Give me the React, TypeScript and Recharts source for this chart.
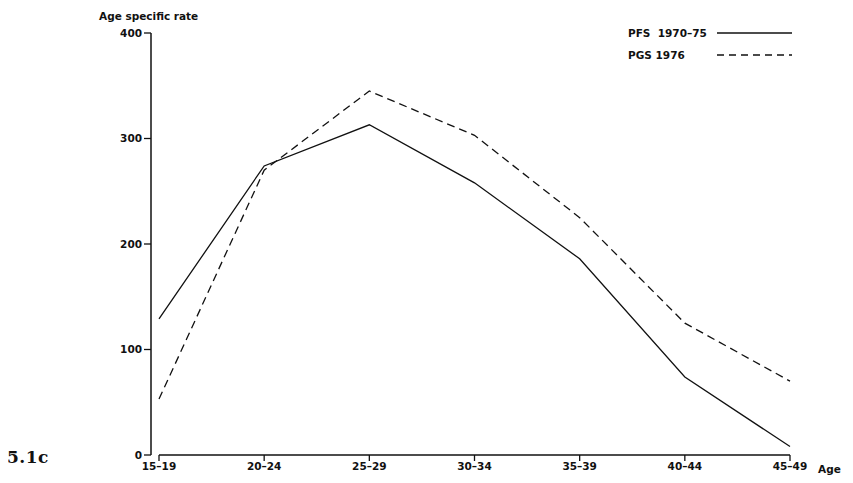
import { LineChart, Line, XAxis, YAxis, ReferenceLine } from 'recharts';

const ageGroups = ['15–19', '20–24', '25–29', '30–34', '35–39', '40–44', '45–49'];
const pfsRates = [129, 274, 313, 258, 186, 74, 8];
const pgsRates = [53, 270, 345, 303, 225, 125, 70];
const rateTicks = [0, 100, 200, 300, 400];

const data = ageGroups.map((age, i) => ({
  age,
  pfs: pfsRates[i],
  pgs: pgsRates[i],
}));

const font = '"DejaVu Sans", Verdana, sans-serif';
const ink = '#111';
const tickStyle = { fontSize: 10.5, fontWeight: 700, fill: ink, fontFamily: font };

function LegendBox() {
  return (
    <svg width={200} height={40} style={{ display: 'block' }}>
      <text x={0} y={13} fontSize={10.5} fontWeight={700} fontFamily={font} fill={ink} xmlSpace="preserve">
        PFS  1970–75
      </text>
      <line x1={89} y1={9} x2={164} y2={9} stroke={ink} strokeWidth={1.3} />
      <text x={0} y={35} fontSize={10.5} fontWeight={700} fontFamily={font} fill={ink}>
        PGS 1976
      </text>
      <line x1={89} y1={31} x2={164} y2={31} stroke={ink} strokeWidth={1.3} strokeDasharray="7 5" />
    </svg>
  );
}

export default function App() {
  return (
    <div style={{ position: 'relative', width: 853, height: 483, margin: -8, background: '#fff' }}>
      <LineChart
        width={853}
        height={483}
        data={data}
        margin={{ top: 33, right: 63, left: 0, bottom: 0 }}
      >
        <XAxis
          dataKey="age"
          height={28}
          axisLine={false}
          tickLine={{ stroke: ink, strokeWidth: 1.3 }}
          tickSize={6}
          tick={tickStyle}
          padding={{ left: 8, right: 0 }}
          interval={0}
        />
        <YAxis
          width={151}
          domain={[0, 400]}
          ticks={rateTicks}
          axisLine={{ stroke: ink, strokeWidth: 1.5 }}
          tickLine={{ stroke: ink, strokeWidth: 1.3 }}
          tickSize={7}
          tick={tickStyle}
        />
        <ReferenceLine
          segment={[{ x: ageGroups[0], y: 0 }, { x: ageGroups[ageGroups.length - 1], y: 0 }]}
          stroke={ink}
          strokeWidth={1.5}
        />
        <Line
          type="linear"
          dataKey="pfs"
          stroke={ink}
          strokeWidth={1.3}
          dot={false}
          isAnimationActive={false}
        />
        <Line
          type="linear"
          dataKey="pgs"
          stroke={ink}
          strokeWidth={1.3}
          strokeDasharray="8 5"
          dot={false}
          isAnimationActive={false}
        />
      </LineChart>
      <div style={{ position: 'absolute', left: 628, top: 24 }}>
        <LegendBox />
      </div>
      <div style={{ position: 'absolute', left: 99, top: 10, fontFamily: font, fontSize: 10.5, fontWeight: 700, color: ink, whiteSpace: 'nowrap' }}>
        Age specific rate
      </div>
      <div style={{ position: 'absolute', left: 818, top: 462, fontFamily: font, fontSize: 10.5, fontWeight: 700, color: ink, whiteSpace: 'nowrap', lineHeight: '14px' }}>
        Age
      </div>
      <div style={{ position: 'absolute', left: 7, top: 447, fontFamily: '"DejaVu Serif", "Liberation Serif", serif', fontSize: 17, fontWeight: 700, color: ink, whiteSpace: 'nowrap', letterSpacing: 0.5, lineHeight: '20px' }}>
        5.1c
      </div>
    </div>
  );
}
